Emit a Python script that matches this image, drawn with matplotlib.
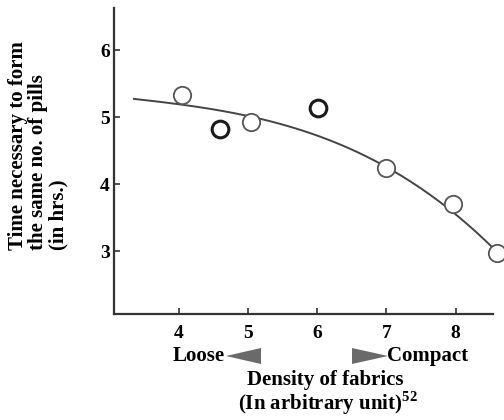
import numpy as np
import matplotlib
matplotlib.use("Agg")
import matplotlib.pyplot as plt
from matplotlib.patches import Polygon

# measured points (density, hours)
density = [4.04, 5.04, 7.0, 7.97, 8.6]
hours = [5.33, 4.93, 4.24, 3.70, 2.97]
# the two darker points
density_dark = [4.59, 6.01]
hours_dark = [4.82, 5.13]

# values
curve_x = [3.35, 4.04, 5.04, 6.01, 7.0, 7.97, 8.6]
curve_y = [5.25, 5.24, 4.97, 4.73, 4.24, 3.61, 2.97]

x_ticks = [4, 5, 6, 7, 8]
y_ticks = [3, 4, 5, 6]

plt.rcParams["font.family"] = ["Liberation Serif", "DejaVu Serif"]
plt.rcParams["font.weight"] = "bold"
plt.rcParams["mathtext.fontset"] = "custom"
plt.rcParams["mathtext.bf"] = "Liberation Serif:bold"
plt.rcParams["mathtext.rm"] = "Liberation Serif:bold"

fig = plt.figure(figsize=(5.04, 4.2), dpi=100)
ax = fig.add_axes([0.226, 0.252, 0.752, 0.729])

# smooth trend line through the read curve values
coef = np.polyfit(curve_x, curve_y, 3)
xs = np.linspace(curve_x[0], curve_x[-1], 200)
ax.plot(xs, np.polyval(coef, xs), color="#444444", lw=1.4, zorder=2)

ax.plot(density, hours, "o", ms=12.5, mfc="white", mec="#555555", mew=1.3,
        zorder=3, clip_on=False)
ax.plot(density_dark, hours_dark, "o", ms=12, mfc="white", mec="#1a1a1a",
        mew=2.2, zorder=3)

ax.set_xlim(3.06, 8.54)
ax.set_ylim(2.06, 6.63)
ax.set_xticks(x_ticks)
ax.set_yticks(y_ticks)
ax.tick_params(direction="in", length=4, width=1.2, labelsize=14,
               color="#333333")
ax.tick_params(axis="y", pad=3)
ax.tick_params(axis="x", pad=8)
for lab in ax.get_xticklabels() + ax.get_yticklabels():
  lab.set_fontweight("bold")

for side in ["top", "right"]:
  ax.spines[side].set_visible(False)
for side in ["left", "bottom"]:
  ax.spines[side].set_color("#333333")
  ax.spines[side].set_linewidth(1.6)

fig.text(0.076, 0.405, "Time necessary to form\nthe same no. of pills\n(in hrs.)",
         rotation=90, ha="center", va="bottom", multialignment="left",
         fontsize=15, fontweight="bold", linespacing=1.0)

W, H = 504, 420


def fp(x, y):
  return (x / W, 1 - y / H)


fig.text(*fp(173, 356), "Loose", ha="left", va="center", fontsize=15,
         fontweight="bold")
fig.text(*fp(387, 356), "Compact", ha="left", va="center", fontsize=15,
         fontweight="bold")
fig.patches.append(Polygon([fp(226, 356), fp(261, 348), fp(261, 364)],
                           closed=True, transform=fig.transFigure,
                           color="#6a6a6a", ec="none"))
fig.patches.append(Polygon([fp(352, 348), fp(352, 364), fp(388, 356)],
                           closed=True, transform=fig.transFigure,
                           color="#6a6a6a", ec="none"))

fig.text(*fp(325, 380), "Density of fabrics", ha="center", va="center",
         fontsize=15, fontweight="bold")
fig.text(*fp(328, 403), "(In arbitrary unit)$^{\\mathbf{52}}$", ha="center",
         va="center", fontsize=15, fontweight="bold")

fig.savefig("out.png", dpi=100)
